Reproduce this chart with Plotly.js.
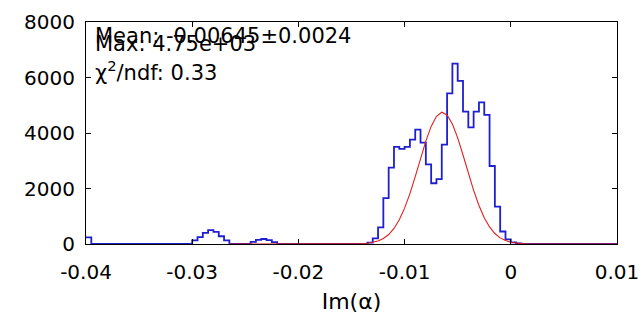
<!DOCTYPE html>
<html>
<head>
<meta charset="utf-8">
<script src="https://cdn.plot.ly/plotly-3.0.1.min.js"></script>
<style>html,body{margin:0;padding:0;background:#fff;}#chart{width:643px;height:321px;}</style>
</head>
<body>
<div id="chart"></div>
<script>
// Histogram: 100 bins of width 0.0005 starting at -0.04
var histStart = -0.04;
var histBinWidth = 0.0005;
var histCounts = [
  240, 0, 0, 0, 0, 0, 0, 0, 0, 0,
  0, 0, 0, 0, 0, 0, 0, 0, 0, 0,
  130, 250, 400, 500, 440, 280, 130, 0, 0, 0,
  0, 80, 150, 180, 140, 70, 0, 0, 0, 0,
  0, 0, 0, 0, 0, 0, 0, 0, 0, 0,
  0, 0, 0, 50, 205, 600, 1650, 2750, 3500, 3430,
  3500, 3760, 4120, 3650, 2870, 2190, 2340, 3580, 5430, 6500,
  5880, 4770, 4200, 4770, 5100, 4650, 2810, 1350, 450, 170,
  60, 20, 0, 0, 0, 0, 0, 0, 0, 0,
  0, 0, 0, 0, 0, 0, 0, 0, 0, 0
];

// Gaussian fit curve
var fitX = [-0.0265, -0.0165, -0.015, -0.0145, -0.014, -0.0135, -0.013, -0.0125, -0.012, -0.0115,
  -0.011, -0.0105, -0.010, -0.0095, -0.009, -0.0085, -0.008, -0.0075, -0.007, -0.0065,
  -0.006, -0.0055, -0.005, -0.0045, -0.004, -0.0035, -0.003, -0.0025, -0.002, -0.0015,
  -0.001, -0.0005, 0, 0.0005, 0.001, 0.0015, 0.002, 0.004, 0.01];
var fitY = [0, 0, 3, 6, 13, 28, 57, 108, 197, 341,
  560, 872, 1292, 1817, 2427, 3077, 3706, 4238, 4604, 4749,
  4652, 4327, 3823, 3207, 2555, 1933, 1389, 948, 614, 378,
  221, 123, 65, 32, 15, 7, 3, 0, 0];

var statLines = ["Mean: -0.00645±0.0024", "Max: 4.75e+03", "χ<sup>2</sup>/ndf: 0.33"];
var xTickVals = [-0.04, -0.03, -0.02, -0.01, 0, 0.01];
var xTickText = ["-0.04", "-0.03", "-0.02", "-0.01", "0", "0.01"];
var yTickVals = [0, 2000, 4000, 6000, 8000];
var yTickText = ["0", "2000", "4000", "6000", "8000"];
var xTitle = "Im(α)";

// step line from bin edges
var stepX = [], stepY = [];
for (var i = 0; i < histCounts.length; i++) {
  stepX.push(histStart + i * histBinWidth);
  stepY.push(histCounts[i]);
}
stepX.push(histStart + histCounts.length * histBinWidth);
stepY.push(histCounts[histCounts.length - 1]);

var font = "DejaVu Sans, sans-serif";

var traces = [
  {x: stepX, y: stepY, type: "scatter", mode: "lines",
   line: {shape: "hv", color: "#1f1fd0", width: 1.8}, hoverinfo: "skip"},
  {x: fitX, y: fitY, type: "scatter", mode: "lines",
   line: {color: "#e02020", width: 1.1}, hoverinfo: "skip"}
];

var annY = [0.935, 0.900, 0.780];
var annotations = statLines.map(function (t, k) {
  return {text: t, xref: "paper", yref: "paper", x: 0.014, y: annY[k],
          xanchor: "left", yanchor: "middle", showarrow: false,
          font: {family: font, size: 21, color: "#000"}};
});

var layout = {
  width: 643, height: 321,
  margin: {l: 86, r: 26, t: 22, b: 77},
  paper_bgcolor: "#fff", plot_bgcolor: "#fff",
  showlegend: false,
  font: {family: font, size: 20, color: "#000"},
  xaxis: {range: [-0.04, 0.01], tickvals: xTickVals, ticktext: xTickText,
          ticks: "inside", ticklen: 5, tickcolor: "#000", showline: true, mirror: "ticks",
          linecolor: "#000", linewidth: 1, showgrid: false, zeroline: false,
          tickfont: {family: font, size: 20}, ticklabelstandoff: 10,
          title: {text: xTitle, font: {family: font, size: 22}, standoff: 10}},
  yaxis: {range: [0, 8000], tickvals: yTickVals, ticktext: yTickText,
          ticks: "inside", ticklen: 5, tickcolor: "#000", showline: true, mirror: "ticks",
          linecolor: "#000", linewidth: 1, showgrid: false, zeroline: false,
          tickfont: {family: font, size: 20}, ticklabelstandoff: 6},
  annotations: annotations
};

Plotly.newPlot("chart", traces, layout, {staticPlot: true, displayModeBar: false});
</script>
</body>
</html>
